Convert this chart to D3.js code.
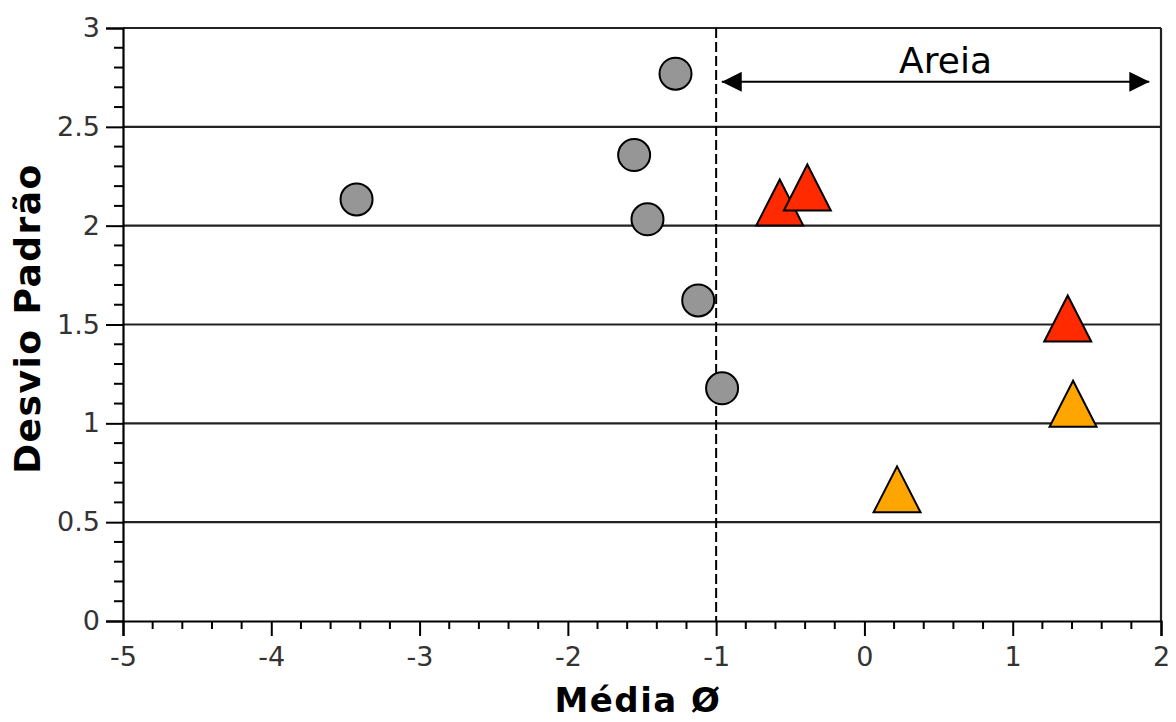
<!DOCTYPE html>
<html><head><meta charset="utf-8">
<script src="https://cdn.jsdelivr.net/npm/d3@7"></script>
<style>body{margin:0;background:#fff}svg{display:block}</style>
</head><body><svg id="c" width="1176" height="722"></svg>
<script>
// ---- data ----
const xDomain = [-5, 2];
const yDomain = [0, 3];
const xTicks = [-5, -4, -3, -2, -1, 0, 1, 2];
const xTickLabels = ["-5", "-4", "-3", "-2", "-1", "0", "1", "2"];
const yTicks = [0, 0.5, 1, 1.5, 2, 2.5, 3];
const yTickLabels = ["0", "0.5", "1", "1.5", "2", "2.5", "3"];
const gridValues = [0.5, 1, 1.5, 2, 2.5, 3];
const circleX = [-1.274, -1.553, -3.425, -1.463, -1.121, -0.960];
const circleY = [2.769, 2.357, 2.133, 2.032, 1.622, 1.177];
const redX = [-0.571, -0.385, 1.371];
const redY = [2.117, 2.193, 1.530];
const orangeX = [1.407, 0.220];
const orangeY = [1.099, 0.666];
const dividerX = -1;
const arrowFrom = -0.962, arrowTo = 1.921, arrowY = 2.728;
const arrowLabel = "Areia";
const xTitle = "Média Ø";
const yTitle = "Desvio Padrão";

// ---- layout ----
const svg = d3.select("#c");
const L = 123, R = 1161, T = 28, B = 621;
const x = d3.scaleLinear().domain(xDomain).range([L, R]);
const y = d3.scaleLinear().domain(yDomain).range([B, T]);
const font = "DejaVu Sans, Verdana, sans-serif";

// grid lines
svg.append("g").selectAll("line").data(gridValues).join("line")
  .attr("x1", L).attr("x2", R).attr("y1", d => y(d)).attr("y2", d => y(d))
  .attr("stroke", "#222").attr("stroke-width", 2.2);
// right border
svg.append("line").attr("x1", R).attr("x2", R).attr("y1", T).attr("y2", B)
  .attr("stroke", "#222").attr("stroke-width", 2.2);

// minor ticks
const xMinor = d3.range(-5, 2.0001, 0.2).filter(v => Math.abs(v - Math.round(v)) > 1e-6);
const yMinor = d3.range(0, 3.0001, 0.1).filter(v => Math.abs(v * 2 - Math.round(v * 2)) > 1e-6);

const xAxis = d3.axisBottom(x).tickValues(xTicks).tickSize(15).tickPadding(11)
  .tickFormat((d, i) => xTickLabels[i]);
const gx = svg.append("g").attr("transform", `translate(0,${B})`).call(xAxis);
gx.append("g").selectAll("line").data(xMinor).join("line")
  .attr("x1", d => x(d)).attr("x2", d => x(d)).attr("y1", 0).attr("y2", 8)
  .attr("stroke", "#000").attr("stroke-width", 2);

const yAxis = d3.axisLeft(y).tickValues(yTicks).tickSize(17).tickPadding(6)
  .tickFormat((d, i) => yTickLabels[i]);
const gy = svg.append("g").attr("transform", `translate(${L},0)`).call(yAxis);
gy.append("g").selectAll("line").data(yMinor).join("line")
  .attr("x1", 0).attr("x2", -9).attr("y1", d => y(d)).attr("y2", d => y(d))
  .attr("stroke", "#000").attr("stroke-width", 2);

[gx, gy].forEach(g => {
  g.select(".domain").attr("stroke", "#000").attr("stroke-width", 2.2);
  g.selectAll(".tick line").attr("stroke", "#000").attr("stroke-width", 2);
  g.selectAll(".tick text").attr("fill", "#333").style("font-family", font).style("font-size", "27px");
});

// dashed divider
svg.append("line").attr("x1", x(dividerX)).attr("x2", x(dividerX)).attr("y1", T).attr("y2", B)
  .attr("stroke", "#000").attr("stroke-width", 2).attr("stroke-dasharray", "10,4");

// arrow
const defs = svg.append("defs");
defs.append("marker").attr("id", "ah").attr("viewBox", "0 0 20 20").attr("refX", 20).attr("refY", 10)
  .attr("markerWidth", 20).attr("markerHeight", 20).attr("markerUnits", "userSpaceOnUse")
  .attr("orient", "auto-start-reverse")
  .append("path").attr("d", "M0,0 L20,10 L0,20 Z").attr("fill", "#000");
svg.append("line").attr("x1", x(arrowFrom)).attr("x2", x(arrowTo)).attr("y1", y(arrowY)).attr("y2", y(arrowY))
  .attr("stroke", "#000").attr("stroke-width", 2)
  .attr("marker-start", "url(#ah)").attr("marker-end", "url(#ah)");
svg.append("text").attr("x", (x(arrowFrom) + x(arrowTo)) / 2 + 10).attr("y", y(arrowY) - 9)
  .attr("text-anchor", "middle").style("font-family", font).style("font-size", "36px")
  .attr("fill", "#000").text(arrowLabel);

// circles
svg.append("g").selectAll("circle").data(d3.zip(circleX, circleY)).join("circle")
  .attr("cx", d => x(d[0])).attr("cy", d => y(d[1])).attr("r", 16)
  .attr("fill", "#969696").attr("stroke", "#000").attr("stroke-width", 2);

// triangles
const tri = "M0,-23 L23.5,23 L-23.5,23 Z";
svg.append("g").selectAll("path").data(d3.zip(redX, redY)).join("path")
  .attr("d", tri).attr("transform", d => `translate(${x(d[0])},${y(d[1])})`)
  .attr("fill", "#FF2A00").attr("stroke", "#000").attr("stroke-width", 2);
svg.append("g").selectAll("path").data(d3.zip(orangeX, orangeY)).join("path")
  .attr("d", tri).attr("transform", d => `translate(${x(d[0])},${y(d[1])})`)
  .attr("fill", "#FFA500").attr("stroke", "#000").attr("stroke-width", 2);

// axis titles
svg.append("text").attr("x", (L + R) / 2 - 4).attr("y", 712).attr("text-anchor", "middle")
  .style("font-family", font).style("font-weight", "bold").style("font-size", "34px")
  .style("letter-spacing", "1.5px").attr("fill", "#000").text(xTitle);
svg.append("text").attr("transform", `translate(40,${(T + B) / 2 - 6}) rotate(-90)`).attr("text-anchor", "middle")
  .style("font-family", font).style("font-weight", "bold").style("font-size", "36px")
  .style("letter-spacing", "1.5px").attr("fill", "#000").text(yTitle);
</script></body></html>
